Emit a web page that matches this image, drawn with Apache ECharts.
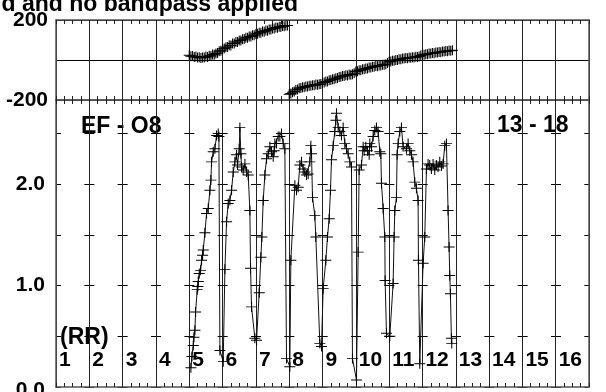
<!DOCTYPE html>
<html><head><meta charset="utf-8">
<script src="https://cdn.jsdelivr.net/npm/echarts@6/dist/echarts.min.js"></script>
<style>html,body{margin:0;padding:0;background:#fff}#c{width:606px;height:392px}</style>
</head><body><div id="c"></div>
<script>
// ---- data (hours, amplitude) ----
const ampHours = [5.05,5.08,5.12,5.14,5.17,5.19,5.24,5.26,5.27,5.30,5.34,5.37,5.40,5.42,5.47,5.52,5.57,5.62,5.65,5.67,5.72,5.77,5.82,5.87,5.89,
5.92,6.02,
6.07,6.12,6.17,6.22,6.27,6.32,6.37,6.42,6.45,6.50,6.52,6.55,6.57,6.62,6.67,6.72,6.77,
6.82,6.84,6.87,6.97,7.02,
7.10,7.15,7.18,7.22,7.27,7.32,7.37,7.42,7.47,7.52,7.55,7.57,7.62,7.67,7.72,7.77,7.82,7.87,
7.92,8.02,
8.05,8.17,8.22,8.27,8.32,8.37,8.42,8.47,8.52,8.57,8.62,8.65,8.67,
8.70,8.77,8.80,8.92,8.97,
9.02,9.10,9.15,9.20,9.24,9.27,9.32,9.37,9.40,9.42,9.47,9.52,9.57,9.62,9.67,9.72,9.77,9.82,9.87,
9.90,10.02,
10.07,10.10,10.17,10.22,10.25,10.30,10.35,10.40,10.42,10.47,10.52,10.57,10.62,10.67,10.72,10.75,
10.77,10.82,10.87,10.88,10.92,11.02,
11.12,11.15,11.17,11.22,11.24,11.27,11.32,11.37,11.42,11.52,11.57,11.62,11.67,11.72,
11.77,11.82,11.87,11.88,11.92,
12.02,12.07,12.12,12.17,12.22,12.27,12.32,12.37,12.42,12.47,12.52,12.57,12.62,12.67,12.72,
12.77,12.80,12.82,12.84,12.87,12.88];
const ampValues = [0.19,0.30,0.41,0.49,0.56,0.74,0.96,0.99,1.04,1.12,1.15,1.25,1.30,1.35,1.52,1.71,1.76,1.94,2.04,2.22,2.32,2.35,2.48,2.50,2.47,
0.36,0.25,
1.16,1.63,1.81,1.84,1.94,2.12,2.22,2.29,2.19,2.35,2.56,2.30,2.17,2.14,2.20,2.12,2.09,
1.74,1.17,0.79,0.48,0.46,
0.93,1.28,1.48,1.84,2.09,2.25,2.30,2.37,2.32,2.27,2.33,2.40,2.40,2.47,2.47,2.50,2.40,2.35,
0.28,0.20,
1.25,1.99,1.94,1.97,2.19,2.22,2.15,2.12,2.09,2.10,2.22,2.38,2.30,
1.87,1.69,1.48,0.43,0.40,
0.97,1.25,1.48,1.66,1.94,2.24,2.38,2.52,2.63,2.70,2.56,2.52,2.48,2.56,2.40,2.35,2.30,2.22,2.17,
0.28,0.07,
1.33,2.14,2.19,2.37,2.33,2.37,2.33,2.29,2.40,2.37,2.47,2.53,2.56,2.52,2.32,2.30,
2.01,1.76,1.48,1.05,0.53,0.50,
1.02,1.48,1.74,1.87,2.29,2.40,2.52,2.56,2.37,2.35,2.40,2.33,2.29,2.22,
2.02,1.96,1.84,1.25,0.23,
1.22,1.48,2.15,2.20,2.19,2.15,2.20,2.14,2.19,2.17,2.22,2.18,2.20,2.38,2.40,
1.74,1.38,1.10,0.92,0.48,0.43];

// ---- data (hours, phase in degrees) ----
const phaseHours = [5.00,5.05,5.10,5.15,5.20,5.25,5.30,5.35,5.40,5.45,5.50,5.55,5.60,5.65,5.70,5.75,5.80,5.85,5.90,5.95,
6.00,6.05,6.10,6.15,6.20,6.25,6.30,6.35,6.40,6.45,6.50,6.55,6.60,6.65,6.70,6.75,6.80,6.85,6.90,6.95,
7.00,7.05,7.10,7.15,7.20,7.25,7.30,7.35,7.40,7.45,7.50,7.55,7.60,7.65,7.70,7.75,7.80,7.85,7.90,7.95,
8.00,8.05,8.10,8.15,8.20,8.25,8.30,8.35,8.40,8.45,8.50,8.55,8.60,8.65,8.70,8.75,8.80,8.85,8.90,8.95,
9.00,9.05,9.10,9.15,9.20,9.25,9.30,9.35,9.40,9.45,9.50,9.55,9.60,9.65,9.70,9.75,9.80,9.85,9.90,9.95,
10.00,10.05,10.10,10.15,10.20,10.25,10.30,10.35,10.40,10.45,10.50,10.55,10.60,10.65,10.70,10.75,10.80,10.85,10.90,10.95,
11.00,11.05,11.10,11.15,11.20,11.25,11.30,11.35,11.40,11.45,11.50,11.55,11.60,11.65,11.70,11.75,11.80,11.85,11.90,11.95,
12.00,12.05,12.10,12.15,12.20,12.25,12.30,12.35,12.40,12.45,12.50,12.55,12.60,12.65,12.70,12.75,12.80,12.85,12.90];
const phaseDeg = [24,19,20,15,17,12,14,10,13,12,17,15,21,20,27,26,33,35,44,46,
55,57,64,65,74,73,82,83,90,90,97,98,104,105,111,111,117,118,124,124,
130,131,136,136,142,141,147,146,152,152,157,157,162,161,166,165,170,169,173,172,
-171,-167,-161,-157,-150,-147,-141,-140,-136,-136,-132,-132,-129,-129,-126,-126,-123,-124,-121,-120,
-114,-113,-108,-107,-101,-100,-96,-96,-91,-90,-85,-84,-80,-80,-76,-77,-73,-74,-71,-66,
-57,-56,-51,-51,-46,-46,-42,-42,-38,-38,-34,-34,-30,-31,-27,-27,-24,-24,-21,-15,
-9,-8,-4,-4,0,0,4,4,7,7,10,9,12,11,14,13,16,15,18,22,
26,26,29,29,32,32,35,34,38,37,40,39,43,42,45,44,47,46,49];

// ---- axes / ticks ----
const hourMin = 1, hourMax = 17;
const phaseMin = -200, phaseMax = 200, phaseStep = 200;
const ampMin = 0, ampMax = 2.83, ampStep = 0.5;
const titleText = 'd and no bandpass applied';
const baselineText = 'EF - O8';
const rangeText = '13 - 18';
const polText = '(RR)';

const FONT = 'Liberation Sans, Arial, Helvetica, sans-serif';
const plus = 'path://M0,5L10,5M5,0L5,10';
const gridCol = '#222';
const borderCol = '#555';

const ampData = ampHours.map((h, i) => [h, ampValues[i]]);
const phaseData = phaseHours.map((h, i) => [h, phaseDeg[i]]);

function xAx(grid, pos, withSplit, withLabel) {
  return {
    type: 'value', gridIndex: grid, position: pos, min: hourMin, max: hourMax, interval: 1,
    axisLine: { show: true, onZero: false, lineStyle: { color: borderCol, width: 1.5 } },
    axisTick: { show: true, inside: true, length: 4, lineStyle: { color: gridCol } },
    minorTick: { show: true, splitNumber: 4, length: 4, lineStyle: { color: gridCol } },
    splitLine: { show: withSplit, lineStyle: { color: gridCol, width: 1 } },
    axisLabel: withLabel ? {
      show: true, inside: true, margin: 16, align: 'left', padding: [0, 0, 0, 3],
      color: '#000', fontSize: 21, fontWeight: 'bold', fontFamily: FONT,
      showMaxLabel: false,
      formatter: v => (v >= hourMax ? '' : String(v))
    } : { show: false }
  };
}

const chart = echarts.init(document.getElementById('c'), null, { renderer: 'canvas' });
chart.setOption({
  animation: false,
  backgroundColor: '#fff',
  grid: [
    { left: 56, top: 20, width: 533, height: 80, outerBoundsMode: 'none', containLabel: false },
    { left: 56, top: 100, width: 533, height: 287, outerBoundsMode: 'none', containLabel: false }
  ],
  xAxis: [
    xAx(0, 'bottom', true, false),
    xAx(0, 'top', false, false),
    xAx(1, 'top', false, false),
    xAx(1, 'bottom', true, true)
  ],
  yAxis: [
    {
      type: 'value', gridIndex: 0, min: phaseMin, max: phaseMax, interval: phaseStep,
      axisLine: { show: true, lineStyle: { color: borderCol, width: 1.5 } },
      axisTick: { show: false },
      splitLine: { show: true, lineStyle: { color: '#000', width: 1 } },
      axisLabel: { color: '#000', fontSize: 21, fontWeight: 'bold', fontFamily: FONT, margin: 8,
        formatter: v => (v === 0 ? '' : String(v)) }
    },
    {
      type: 'value', gridIndex: 0, position: 'right', min: phaseMin, max: phaseMax, interval: phaseStep,
      axisLine: { show: true, lineStyle: { color: borderCol, width: 1.5 } },
      axisTick: { show: false }, splitLine: { show: false }, axisLabel: { show: false }
    },
    {
      type: 'value', gridIndex: 1, min: ampMin, max: ampMax, interval: ampStep,
      axisLine: { show: true, lineStyle: { color: borderCol, width: 1.5 } },
      axisTick: { show: false },
      splitLine: { show: true, lineStyle: { color: '#000', width: 1, type: [10, 23.333], dashOffset: 5 } },
      axisLabel: { color: '#000', fontSize: 21, fontWeight: 'bold', fontFamily: FONT, margin: 11,
        formatter: v => (Math.abs(v) < 1e-6 ? '{z|0.0}' : (Math.abs(v - Math.round(v)) < 1e-6 ? v.toFixed(1) : '')),
        rich: { z: { fontSize: 21, fontWeight: 'bold', fontFamily: FONT, color: '#000', padding: [7, 0, 0, 0] } } }
    },
    {
      type: 'value', gridIndex: 1, position: 'right', min: ampMin, max: ampMax, interval: ampStep,
      axisLine: { show: true, lineStyle: { color: borderCol, width: 1.5 } },
      axisTick: { show: false }, splitLine: { show: false }, axisLabel: { show: false }
    }
  ],
  series: [
    {
      type: 'scatter', xAxisIndex: 0, yAxisIndex: 0, data: phaseData,
      symbol: plus, symbolSize: [11, 10], symbolKeepAspect: false,
      itemStyle: { color: 'transparent', borderColor: '#000', borderWidth: 1, opacity: 1 },
      emphasis: { disabled: true }
    },
    {
      type: 'line', xAxisIndex: 3, yAxisIndex: 2, data: ampData,
      symbol: plus, symbolSize: [11, 10], symbolKeepAspect: false, showSymbol: true, showAllSymbol: true,
      lineStyle: { color: '#111', width: 1 },
      itemStyle: { color: 'transparent', borderColor: '#000', borderWidth: 1 },
      emphasis: { disabled: true }
    }
  ],
  graphic: [
    { type: 'text', x: 298, y: 5, style: { text: titleText, align: 'right', verticalAlign: 'middle',
      fill: '#000', font: 'bold 23px ' + FONT } },
    { type: 'text', x: 81, y: 127, style: { text: baselineText, align: 'left', verticalAlign: 'middle',
      fill: '#000', font: 'bold 23px ' + FONT } },
    { type: 'text', x: 497, y: 126, style: { text: rangeText, align: 'left', verticalAlign: 'middle',
      fill: '#000', font: 'bold 23px ' + FONT } },
    { type: 'text', x: 60, y: 338, style: { text: polText, align: 'left', verticalAlign: 'middle',
      fill: '#000', font: 'bold 23px ' + FONT } }
  ]
});
</script></body></html>
